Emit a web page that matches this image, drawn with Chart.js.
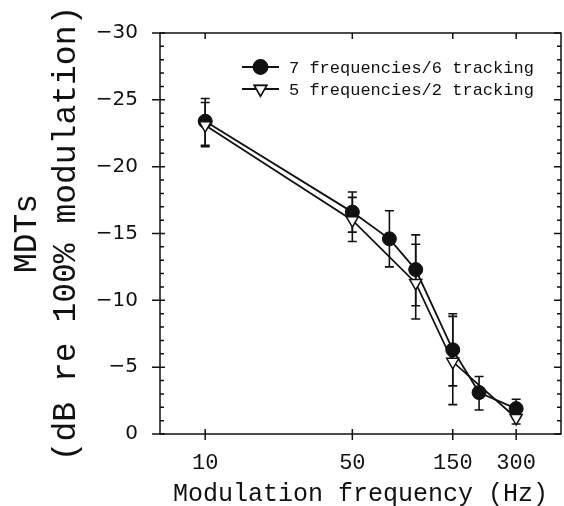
<!DOCTYPE html>
<html>
<head>
<meta charset="utf-8">
<script src="https://cdn.jsdelivr.net/npm/chart.js@4/dist/chart.umd.min.js"></script>
<style>
  body { margin: 0; background: #fff; }
</style>
</head>
<body>
<canvas id="mdt-chart" width="564" height="506"></canvas>
<script>
// 7 frequencies / 6 tracking (filled circles)
const freq7 = [10, 50, 75, 100, 150, 200, 300];
const mdt7 = [-23.4, -16.6, -14.6, -12.3, -6.3, -3.1, -1.9];
const mdt7Top = [-25.1, -18.1, -16.7, -14.9, -9.0, -4.3, -2.6];
const mdt7Bottom = [-21.6, -15.1, -12.5, -9.6, -3.6, -1.8, -1.2];

// 5 frequencies / 2 tracking (open triangles)
const freq5 = [10, 50, 100, 150, 300];
const mdt5 = [-23.1, -16.0, -11.3, -5.4, -1.2];
const mdt5Top = [-24.8, -17.7, -14.2, -8.8, -1.7];
const mdt5Bottom = [-21.5, -14.4, -8.6, -2.2, -0.75];

const xTicks = [10, 50, 150, 300];
const seriesNames = ['7 frequencies/6 tracking', '5 frequencies/2 tracking'];

const ink = '#111';
const mono = "'Liberation Mono', 'DejaVu Sans Mono', monospace";

function toPoints(xs, ys) {
  return xs.map((x, i) => ({ x: x, y: ys[i] }));
}

// error bars, drawn under the markers
const errorBars = {
  id: 'errorBars',
  beforeDatasetsDraw(chart) {
    const ctx = chart.ctx;
    const xs = chart.scales.x, ys = chart.scales.y;
    const sets = [[freq7, mdt7Top, mdt7Bottom], [freq5, mdt5Top, mdt5Bottom]];
    ctx.save();
    ctx.strokeStyle = ink;
    ctx.lineWidth = 1.6;
    sets.forEach(([f, hi, lo]) => {
      f.forEach((v, i) => {
        const px = xs.getPixelForValue(v);
        const y1 = ys.getPixelForValue(hi[i]);
        const y2 = ys.getPixelForValue(lo[i]);
        ctx.beginPath();
        ctx.moveTo(px, y1); ctx.lineTo(px, y2);
        ctx.moveTo(px - 4.5, y1); ctx.lineTo(px + 4.5, y1);
        ctx.moveTo(px - 4.5, y2); ctx.lineTo(px + 4.5, y2);
        ctx.stroke();
      });
    });
    ctx.restore();
  }
};

// box frame with crossing and minor ticks
const frame = {
  id: 'frame',
  afterDraw(chart) {
    const ctx = chart.ctx;
    const { left, right, top, bottom } = chart.chartArea;
    const xs = chart.scales.x, ys = chart.scales.y;
    ctx.save();
    ctx.strokeStyle = ink;
    ctx.lineWidth = 1.5;
    ctx.strokeRect(left, top, right - left, bottom - top);
    ctx.beginPath();
    for (let v = -30; v <= 0; v++) {
      const py = ys.getPixelForValue(v);
      if (v % 5 === 0) {
        ctx.moveTo(left - 8, py); ctx.lineTo(left + 5, py);
        ctx.moveTo(right - 7, py); ctx.lineTo(right, py);
      } else {
        ctx.moveTo(left, py); ctx.lineTo(left + 4, py);
        ctx.moveTo(right - 4, py); ctx.lineTo(right, py);
      }
    }
    xTicks.forEach(v => {
      const px = xs.getPixelForValue(v);
      ctx.moveTo(px, bottom - 5); ctx.lineTo(px, bottom + 6);
      ctx.moveTo(px, top); ctx.lineTo(px, top + 6);
    });
    ctx.stroke();
    ctx.restore();
  }
};

// legend inside the plot, top right
const insideLegend = {
  id: 'insideLegend',
  afterDraw(chart) {
    const ctx = chart.ctx;
    const { left, top } = chart.chartArea;
    ctx.save();
    seriesNames.forEach((name, i) => {
      const y = top + 34 + i * 22;
      const x0 = left + 82, x1 = left + 119, xm = (x0 + x1) / 2;
      ctx.strokeStyle = ink;
      ctx.lineWidth = 1.8;
      ctx.beginPath();
      ctx.moveTo(x0, y); ctx.lineTo(x1, y);
      ctx.stroke();
      const ds = chart.data.datasets[i];
      Chart.helpers.drawPoint(ctx, {
        pointStyle: ds.pointStyle, radius: ds.pointRadius,
        rotation: ds.pointRotation || 0, borderWidth: ds.pointBorderWidth
      }, xm, y);
      ctx.fillStyle = ds.pointBackgroundColor;
      ctx.strokeStyle = ink;
      ctx.lineWidth = ds.pointBorderWidth;
      ctx.fill();
      ctx.stroke();
      ctx.fillStyle = ink;
      ctx.font = "17px " + mono;
      ctx.textBaseline = 'middle';
      ctx.fillText(name, x1 + 10, y + 1);
    });
    ctx.restore();
  }
};

new Chart(document.querySelector('#mdt-chart').getContext('2d'), {
  type: 'line',
  data: {
    datasets: [
      {
        label: seriesNames[0],
        data: toPoints(freq7, mdt7),
        borderColor: ink,
        borderWidth: 1.8,
        pointStyle: 'circle',
        pointRadius: 7,
        pointBackgroundColor: ink,
        pointBorderColor: ink,
        pointBorderWidth: 1,
        order: 1
      },
      {
        label: seriesNames[1],
        data: toPoints(freq5, mdt5),
        borderColor: ink,
        borderWidth: 1.8,
        pointStyle: 'triangle',
        pointRotation: 180,
        pointRadius: 7,
        pointBackgroundColor: '#fff',
        pointBorderColor: ink,
        pointBorderWidth: 1.5,
        order: 0
      }
    ]
  },
  options: {
    responsive: false,
    animation: false,
    layout: { autoPadding: false, padding: { top: 33, right: 3, left: 0, bottom: 0 } },
    plugins: {
      legend: { display: false },
      tooltip: { enabled: false }
    },
    scales: {
      x: {
        type: 'logarithmic',
        min: 6.1,
        max: 490,
        afterBuildTicks: scale => { scale.ticks = xTicks.map(v => ({ value: v })); },
        afterFit: scale => {
          scale.height = 72;
          scale.paddingLeft = 0;
          scale.paddingRight = 0;
        },
        grid: { display: false, drawTicks: false },
        border: { display: false },
        ticks: {
          autoSkip: false,
          maxRotation: 0,
          padding: 16,
          color: ink,
          font: { family: mono, size: 22 },
          callback: v => String(v)
        },
        title: {
          display: true,
          text: 'Modulation frequency (Hz)',
          color: ink,
          font: { family: mono, size: 25, lineHeight: 1.0 },
          padding: { top: 0, bottom: -1 }
        }
      },
      y: {
        reverse: true,
        min: -30,
        max: 0,
        afterFit: scale => {
          scale.width = 160;
          scale.paddingTop = 0;
          scale.paddingBottom = 0;
        },
        grid: { display: false, drawTicks: false },
        border: { display: false },
        ticks: {
          stepSize: 5,
          padding: 22,
          color: ink,
          font: { family: "'DejaVu Sans', sans-serif", size: 20 },
          callback: v => String(v).replace('-', '\u2212')
        },
        title: {
          display: true,
          text: ['MDTs', '(dB re 100% modulation)'],
          color: ink,
          font: { family: mono, size: 33, lineHeight: 1.18 },
          padding: { top: 8, bottom: 0 }
        }
      }
    }
  },
  plugins: [errorBars, frame, insideLegend]
});
</script>
</body>
</html>
